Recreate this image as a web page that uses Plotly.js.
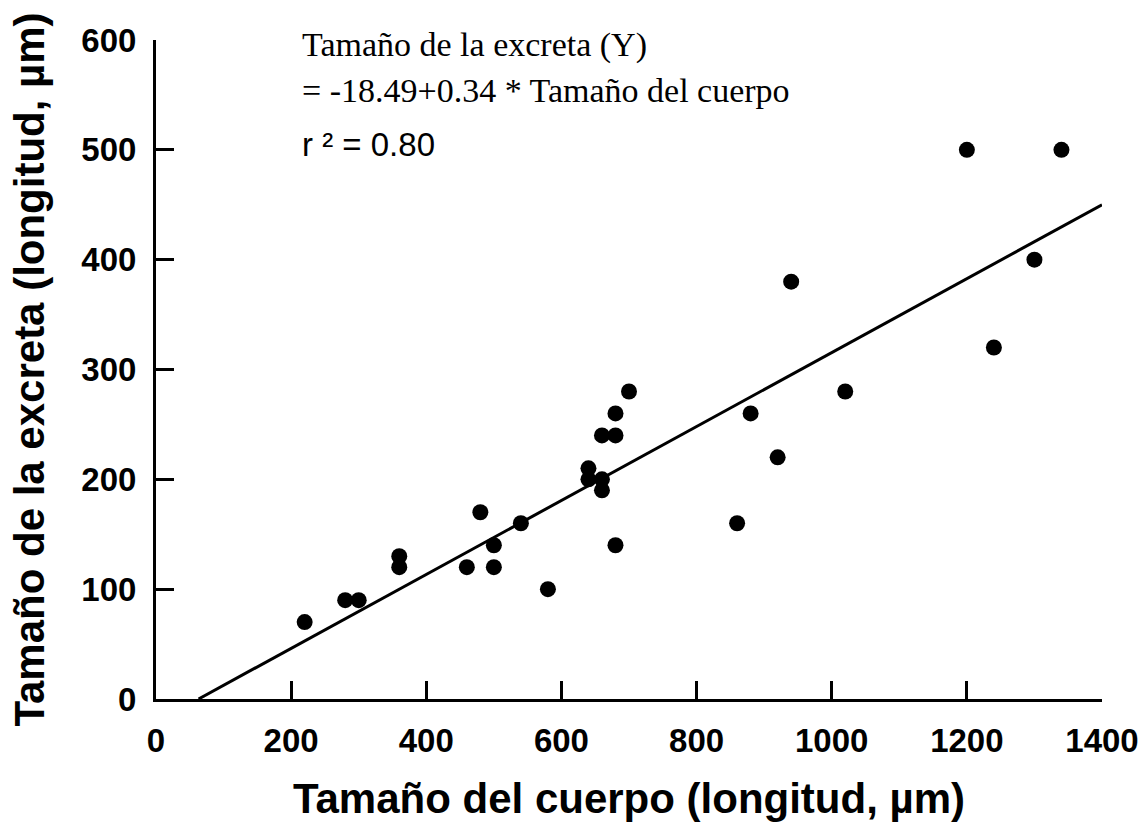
<!DOCTYPE html>
<html>
<head>
<meta charset="utf-8">
<script src="https://cdn.plot.ly/plotly-3.0.1.min.js"></script>
<style>html,body{margin:0;padding:0;background:#fff;}#chart{width:1145px;height:830px;}</style>
</head>
<body>
<div id="chart"></div>
<script>
// Data
const bodySize = [220, 280, 300, 360, 360, 460, 480, 500, 500, 540, 580, 640, 640, 660, 660, 660, 680, 680, 680, 700, 860, 880, 920, 940, 1020, 1200, 1240, 1300, 1340];
const excretaSize = [70, 90, 90, 130, 120, 120, 170, 140, 120, 160, 100, 210, 200, 200, 190, 240, 240, 260, 140, 280, 160, 260, 220, 380, 280, 500, 320, 400, 500];
const fitX = [63, 1400];
const fitY = [0, 450];
const xTicks = [0, 200, 400, 600, 800, 1000, 1200, 1400];
const yTicks = [0, 100, 200, 300, 400, 500, 600];

const traces = [
  {x: fitX, y: fitY, mode: 'lines', type: 'scatter', line: {color: '#000', width: 3}, hoverinfo: 'skip'},
  {x: bodySize, y: excretaSize, mode: 'markers', type: 'scatter', marker: {color: '#000', size: 16}}
];

const tickFont = {family: 'Liberation Sans, Arial, sans-serif', size: 33, color: '#000', weight: 'bold'};
const titleFont = {family: 'Liberation Sans, Arial, sans-serif', size: 42, color: '#000'};
const serifFont = {family: 'Liberation Serif, Times New Roman, serif', size: 34, color: '#000'};
const layout = {
  width: 1145, height: 830,
  margin: {l: 156, r: 43, t: 40, b: 131},
  showlegend: false,
  paper_bgcolor: '#fff', plot_bgcolor: '#fff',
  xaxis: {
    range: [0, 1400], tickvals: xTicks, ticktext: xTicks.map(String),
    showgrid: false, zeroline: false, showline: true, linecolor: '#000', linewidth: 3,
    ticks: 'inside', ticklen: 18, tickwidth: 3, tickcolor: '#000',
    tickfont: tickFont, ticklabelstandoff: 10,
    title: {text: '<b>Tamaño del cuerpo (longitud, µm)</b>', font: titleFont, standoff: 27}
  },
  yaxis: {
    range: [0, 600], tickvals: yTicks, ticktext: yTicks.map(String),
    showgrid: false, zeroline: false, showline: true, linecolor: '#000', linewidth: 3,
    ticks: 'inside', ticklen: 18, tickwidth: 3, tickcolor: '#000',
    tickfont: tickFont, ticklabelstandoff: 10,
    title: {text: '<b>Tamaño de la excreta (longitud, µm)</b>', font: titleFont, standoff: 24}
  },
  annotations: [
    {xref: 'paper', yref: 'paper', x: 0.152, y: 0.992, xanchor: 'left', yanchor: 'middle', showarrow: false,
     text: 'Tamaño de la excreta (Y)', font: serifFont},
    {xref: 'paper', yref: 'paper', x: 0.152, y: 0.924, xanchor: 'left', yanchor: 'middle', showarrow: false,
     text: '= -18.49+0.34 * Tamaño del cuerpo', font: serifFont},
    {xref: 'paper', yref: 'paper', x: 0.152, y: 0.842, xanchor: 'left', yanchor: 'middle', showarrow: false,
     text: 'r ² = 0.80', font: {family: 'Liberation Sans, Arial, sans-serif', size: 33, color: '#000'}}
  ]
};
Plotly.newPlot('chart', traces, layout, {displayModeBar: false, staticPlot: true});
</script>
</body>
</html>
